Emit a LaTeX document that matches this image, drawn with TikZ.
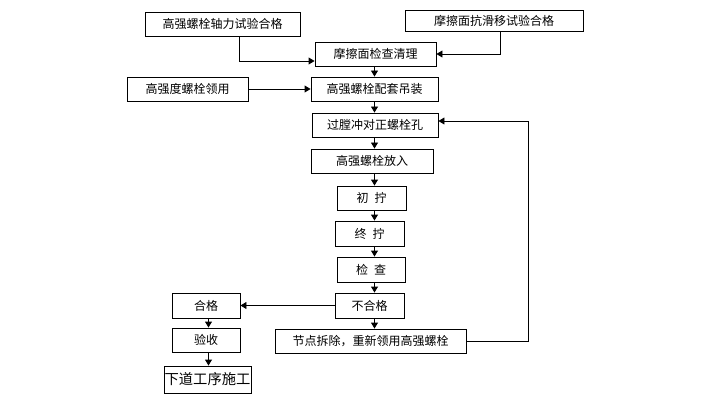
\documentclass[tikz,border=0pt]{standalone}
\usepackage{fontspec}
\newfontfamily\cjk{Noto Sans CJK SC}
\usetikzlibrary{arrows.meta}
\begin{document}
\begin{tikzpicture}[x=1pt,y=-1pt,
  box/.style={draw=black, line width=0.9pt, inner sep=0pt, align=center, font=\cjk\fontsize{12}{14}\selectfont},
  arr/.style={draw=black, line width=0.9pt, -{Triangle[length=6pt,width=7pt]}},
  ln/.style={draw=black, line width=0.9pt}]
\useasboundingbox (0,0) rectangle (716,404);
\fill[white] (0,0) rectangle (716,404);
\node[box, minimum width=155pt, minimum height=24pt] (a) at (222.5,24) {高强螺栓轴力试验合格};
\node[box, minimum width=178pt, minimum height=21pt] (b) at (494,20.5) {摩擦面抗滑移试验合格};
\node[box, minimum width=121pt, minimum height=24pt] (c) at (375.5,54) {摩擦面检查清理};
\node[box, minimum width=121pt, minimum height=24pt] (d) at (187.5,89) {高强度螺栓领用};
\node[box, minimum width=127pt, minimum height=24pt] (e) at (374.5,89) {高强螺栓配套吊装};
\node[box, minimum width=126pt, minimum height=24pt] (f) at (375,125) {过膛冲对正螺栓孔};
\node[box, minimum width=122pt, minimum height=24pt] (g) at (372,161) {高强螺栓放入};
\node[box, minimum width=69pt, minimum height=24pt] (h) at (371.5,198) {初\hspace{6pt}拧};
\node[box, minimum width=69pt, minimum height=25pt] (i) at (369.5,233.5) {终\hspace{6pt}拧};
\node[box, minimum width=68pt, minimum height=25pt] (j) at (371,269.5) {检\hspace{6pt}查};
\node[box, minimum width=69pt, minimum height=25pt] (k) at (369.5,305.5) {不合格};
\node[box, minimum width=68pt, minimum height=25pt] (l) at (206,305.5) {合格};
\node[box, minimum width=191pt, minimum height=24pt] (m) at (370.5,341) {节点拆除，重新领用高强螺栓};
\node[box, minimum width=68pt, minimum height=24pt] (n) at (206,340) {验收};
\node[box, minimum width=87pt, minimum height=27pt, font=\cjk\fontsize{14.3}{16}\selectfont] (o) at (207.5,379.5) {下道工序施工};
\coordinate (ax) at (374.5,0);
\coordinate (a1) at (239,0);
\coordinate (cy) at (0,61);
\coordinate (bx) at (500,0);
\coordinate (rx) at (528,121);
\coordinate (lx) at (208.5,0);
% top inputs
\draw[arr] (a.south -| a1) |- (c.west |- cy);
\draw[arr] (b.south -| bx) |- (c.east);
\draw[arr] (d.east) -- (e.west);
% main column
\draw[arr] (c.south -| ax) -- (e.north -| ax);
\draw[arr] (e.south -| ax) -- (f.north -| ax);
\draw[arr] (f.south -| ax) -- (g.north -| ax);
\draw[arr] (g.south -| ax) -- (h.north -| ax);
\draw[arr] (h.south -| ax) -- (i.north -| ax);
\draw[arr] (i.south -| ax) -- (j.north -| ax);
\draw[arr] (j.south -| ax) -- (k.north -| ax);
\draw[arr] (k.south -| ax) -- (m.north -| ax);
% branch
\draw[arr] (k.west) -- (l.east);
\draw[arr] (l.south -| lx) -- (n.north -| lx);
\draw[arr] (n.south -| lx) -- (o.north -| lx);
% feedback
\draw[arr] (m.east) -| (rx) -- (f.east |- rx);
\end{tikzpicture}
\end{document}
